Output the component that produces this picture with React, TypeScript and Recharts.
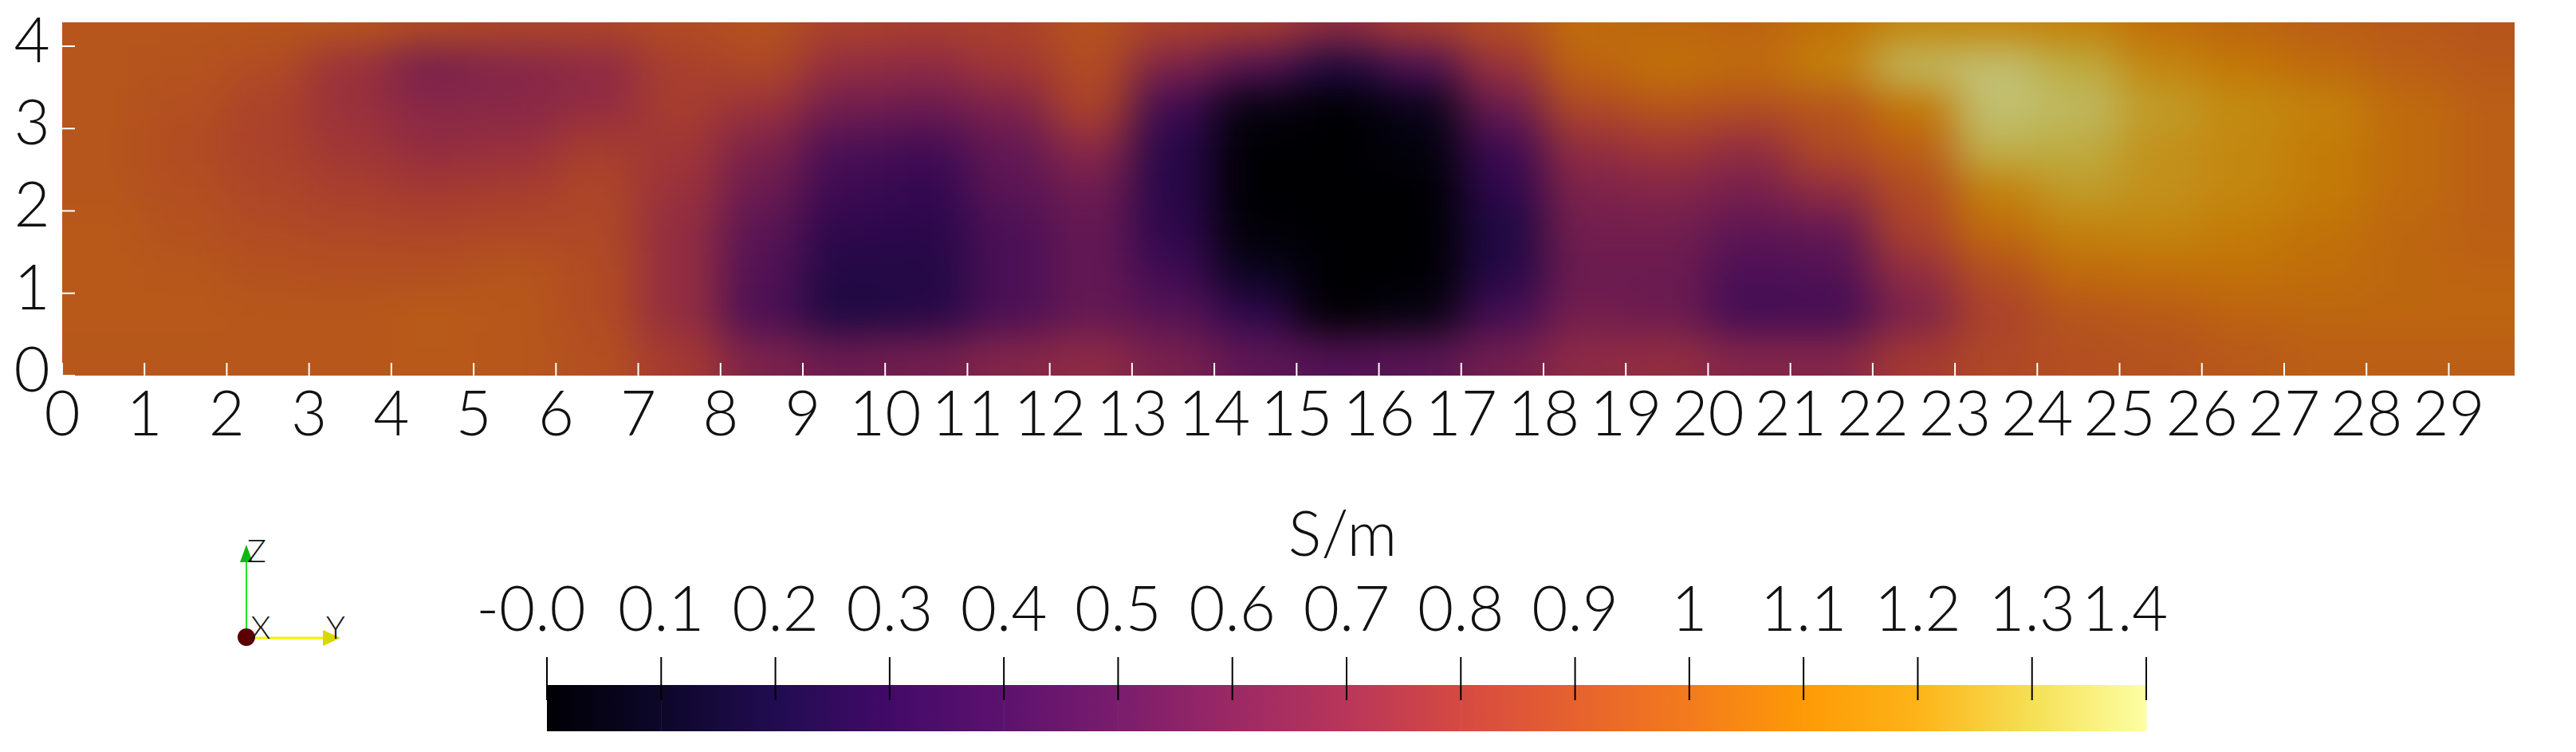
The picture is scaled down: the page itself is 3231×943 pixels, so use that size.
import { Scatter, ScatterChart, XAxis, YAxis } from "recharts";

const WIDTH = 3231;
const HEIGHT = 943;
const FONT = "Lato, sans-serif";

// conductivity, one list per depth row (cell centres x = 0.5 ... 29.5)
const xCentres = [0.5, 1.5, 2.5, 3.5, 4.5, 5.5, 6.5, 7.5, 8.5, 9.5, 10.5, 11.5, 12.5, 13.5, 14.5, 15.5, 16.5, 17.5, 18.5, 19.5, 20.5, 21.5, 22.5, 23.5, 24.5, 25.5, 26.5, 27.5, 28.5, 29.5];
const row425 = [0.95, 0.95, 0.95, 0.95, 0.9, 0.87, 0.87, 0.9, 0.93, 0.85, 0.83, 0.85, 0.93, 0.85, 0.82, 0.72, 0.82, 0.92, 1.05, 1.03, 1.02, 1.08, 1.18, 1.18, 1.15, 1.07, 1.03, 1.0, 0.97, 0.95];
const row375 = [0.95, 0.94, 0.9, 0.75, 0.6, 0.66, 0.7, 0.83, 0.88, 0.72, 0.7, 0.78, 0.9, 0.62, 0.45, 0.22, 0.42, 0.75, 1.02, 1.08, 1.05, 1.15, 1.35, 1.38, 1.3, 1.18, 1.1, 1.05, 1.0, 0.97];
const row325 = [0.95, 0.92, 0.85, 0.75, 0.68, 0.68, 0.72, 0.82, 0.75, 0.58, 0.55, 0.62, 0.85, 0.36, 0.05, 0, 0.08, 0.55, 0.88, 0.95, 0.92, 0.95, 1.1, 1.38, 1.35, 1.25, 1.2, 1.15, 1.05, 1.0];
const row275 = [0.95, 0.9, 0.85, 0.78, 0.72, 0.74, 0.82, 0.78, 0.62, 0.42, 0.38, 0.52, 0.68, 0.26, 0, 0, 0.03, 0.35, 0.72, 0.78, 0.72, 0.9, 1.0, 1.32, 1.3, 1.22, 1.18, 1.12, 1.05, 1.0];
const row225 = [0.95, 0.92, 0.87, 0.83, 0.8, 0.82, 0.87, 0.75, 0.55, 0.35, 0.3, 0.48, 0.56, 0.26, 0, 0, 0, 0.28, 0.62, 0.65, 0.6, 0.72, 0.9, 1.15, 1.25, 1.22, 1.18, 1.12, 1.05, 1.0];
const row175 = [0.97, 0.93, 0.9, 0.88, 0.87, 0.88, 0.88, 0.72, 0.48, 0.28, 0.27, 0.42, 0.52, 0.28, 0.01, 0, 0, 0.22, 0.58, 0.58, 0.5, 0.52, 0.85, 1.05, 1.15, 1.17, 1.12, 1.08, 1.03, 1.0];
const row125 = [0.97, 0.96, 0.93, 0.92, 0.92, 0.95, 0.9, 0.72, 0.45, 0.24, 0.24, 0.42, 0.52, 0.36, 0.1, 0, 0, 0.25, 0.55, 0.55, 0.42, 0.45, 0.72, 0.92, 1.05, 1.07, 1.08, 1.06, 1.03, 1.02];
const row075 = [0.97, 0.97, 0.96, 0.96, 0.98, 0.96, 0.9, 0.72, 0.42, 0.22, 0.25, 0.42, 0.52, 0.46, 0.28, 0, 0.05, 0.38, 0.58, 0.55, 0.38, 0.38, 0.62, 0.85, 0.95, 0.98, 1.02, 1.03, 1.03, 1.03];
const row025 = [0.96, 0.96, 0.96, 0.96, 0.97, 0.96, 0.92, 0.8, 0.62, 0.55, 0.58, 0.65, 0.7, 0.6, 0.5, 0.45, 0.48, 0.58, 0.7, 0.72, 0.65, 0.65, 0.8, 0.88, 0.92, 0.94, 0.97, 1.0, 1.0, 1.0];

const yCentres = [4.25, 3.75, 3.25, 2.75, 2.25, 1.75, 1.25, 0.75, 0.25];
const rows = [row425, row375, row325, row275, row225, row175, row125, row075, row025];

const xTicks = [0, 1, 2, 3, 4, 5, 6, 7, 8, 9, 10, 11, 12, 13, 14, 15, 16, 17, 18, 19, 20, 21, 22, 23, 24, 25, 26, 27, 28, 29];
const yTicks = [0, 1, 2, 3, 4];
const barTicks = [0, 0.1, 0.2, 0.3, 0.4, 0.5, 0.6, 0.7, 0.8, 0.9, 1, 1.1, 1.2, 1.3, 1.4];
const barLabels = ["-0.0", "0.1", "0.2", "0.3", "0.4", "0.5", "0.6", "0.7", "0.8", "0.9", "1", "1.1", "1.2", "1.3", "1.4"];
const barColors = ["#000004", "#0d0729", "#200c50", "#420a68", "#5c126e", "#7a1d6d", "#9b2964", "#b8365a", "#d54a41", "#e6622e", "#f37b1c", "#fd9a06", "#fdb418", "#f5e055", "#fcffa4"];

// the plot in the reference is lit, so it is darker than the colour bar
const SHADE = 0.77;

function toRgb(hex: string) {
  return [1, 3, 5].map((i) => parseInt(hex.slice(i, i + 2), 16));
}

function colorOf(v: number) {
  const t = Math.max(0, Math.min(1.4, v)) / 0.1;
  const i = Math.min(13, Math.floor(t));
  const a = toRgb(barColors[i]);
  const b = toRgb(barColors[i + 1]);
  const c = a.map((n, k) => Math.round((n + (b[k] - n) * (t - i)) * SHADE));
  return `rgb(${c[0]},${c[1]},${c[2]})`;
}

const heatData = yCentres.flatMap((y, r) => xCentres.map((x, c) => ({ x, y, v: rows[r][c] })));
const barData = barTicks.slice(0, -1).map((x) => ({ x, y: 0 }));

const PLOT = { left: 78, right: 3154, top: 28, bottom: 471 };
const BAR = { left: 686, right: 2692, top: 859, bottom: 917 };
const X_MAX = 29.8;
const Y_MAX = 4.29;
const cellW = (PLOT.right - PLOT.left) / X_MAX;
const cellH = ((PLOT.bottom - PLOT.top) / Y_MAX) * 0.5;
const segW = (BAR.right - BAR.left) / (barTicks.length - 1);
const BLEED = 150;
const LABEL_SIZE = 78;

function HeatCell(props: any) {
  const { cx, cy, payload } = props;
  // edge cells run on past the plot so the blur does not fade to white there
  const l = payload.x === xCentres[0] ? BLEED : 0;
  const r = payload.x === xCentres[xCentres.length - 1] ? BLEED : 0;
  const t = payload.y === yCentres[0] ? BLEED : 0;
  const b = payload.y === yCentres[yCentres.length - 1] ? BLEED : 0;
  return (
    <rect
      x={cx - cellW / 2 - l}
      y={cy - cellH / 2 - t}
      width={cellW + l + r + 1}
      height={cellH + t + b + 1}
      fill={colorOf(payload.v)}
    />
  );
}

function BarSegment(props: any) {
  const { cx, index } = props;
  return <rect x={cx} y={BAR.top} width={segW + 0.5} height={BAR.bottom - BAR.top} fill={`url(#barSeg${index})`} />;
}

function BottomTick(props: any) {
  const { x, y, payload } = props;
  return (
    <g>
      <line x1={x} x2={x} y1={y} y2={y - 16} stroke="#fff" strokeWidth={2} />
      <text x={x} y={y + 75} textAnchor="middle" fontFamily={FONT} fontWeight={300} fontSize={LABEL_SIZE} fill="#111">
        {payload.value}
      </text>
    </g>
  );
}

function LeftTick(props: any) {
  const { x, y, payload } = props;
  return (
    <g>
      <line x1={x} x2={x + 16} y1={y} y2={y} stroke="#fff" strokeWidth={2} />
      <text x={x - 38} y={y + 20} textAnchor="middle" fontFamily={FONT} fontWeight={300} fontSize={LABEL_SIZE} fill="#111">
        {payload.value}
      </text>
    </g>
  );
}

function RightTick(props: any) {
  const { x, y, payload } = props;
  return (
    <g>
      <line x1={x - 16} x2={x} y1={y} y2={y} stroke="#fff" strokeWidth={2} />
      <text x={x + 37} y={y + 20} textAnchor="middle" fontFamily={FONT} fontWeight={300} fontSize={LABEL_SIZE} fill="#111">
        {payload.value}
      </text>
    </g>
  );
}

function BarTick(props: any) {
  const { x, payload } = props;
  const i = barTicks.indexOf(payload.value);
  // first and last label sit off their tick in the reference
  const shift = i === 0 ? -20 : i === barTicks.length - 1 ? -27 : 0;
  return (
    <g>
      <line x1={x} x2={x} y1={824} y2={878} stroke="#000" strokeWidth={2} />
      <text x={x + shift} y={791} textAnchor="middle" fontFamily={FONT} fontWeight={300} fontSize={LABEL_SIZE} fill="#111">
        {barLabels[i]}
      </text>
    </g>
  );
}

function Triad() {
  return (
    <svg width={WIDTH} height={HEIGHT} style={{ position: "absolute", left: 0, top: 0 }}>
      <line x1={309} x2={309} y1={799} y2={700} stroke="#22e622" strokeWidth={2} />
      <polygon points="309,683 301,705 317,705" fill="#0fb80f" />
      <line x1={309} x2={408} y1={800} y2={800} stroke="#f4f400" strokeWidth={3} />
      <polygon points="427,800 405,790 405,810" fill="#d8d800" />
      <circle cx={309} cy={799} r={11} fill="#5a0000" />
      <g fontFamily={FONT} fontWeight={300} fontSize={40} fill="#111" textAnchor="middle">
        <text x={322} y={705}>Z</text>
        <text x={327} y={801}>X</text>
        <text x={421} y={801}>Y</text>
      </g>
    </svg>
  );
}

export default function App() {
  return (
    <div style={{ position: "absolute", left: 0, top: 0, width: WIDTH, height: HEIGHT, background: "#fff", overflow: "hidden" }}>
      <style>{`.heat { filter: url(#heatBlur); clip-path: url(#plotClip); }`}</style>

      <div style={{ position: "absolute", left: 0, top: 0 }}>
        <ScatterChart
          width={WIDTH}
          height={HEIGHT}
          margin={{ left: PLOT.left - 40, right: WIDTH - PLOT.right - 40, top: PLOT.top, bottom: HEIGHT - PLOT.bottom - 40 }}
        >
          <defs>
            <filter id="heatBlur" filterUnits="userSpaceOnUse" x={-200} y={-200} width={3700} height={1000} colorInterpolationFilters="sRGB">
              <feGaussianBlur stdDeviation="28 24" />
            </filter>
            <clipPath id="plotClip">
              <rect x={PLOT.left} y={PLOT.top} width={PLOT.right - PLOT.left} height={PLOT.bottom - PLOT.top} />
            </clipPath>
          </defs>
          <Scatter className="heat" data={heatData} dataKey="v" yAxisId="left" shape={HeatCell} isAnimationActive={false} />
          <XAxis type="number" dataKey="x" domain={[0, X_MAX]} ticks={xTicks} interval={0} height={40} axisLine={false} tickLine={false} tickSize={0} tickMargin={0} tick={BottomTick} />
          <YAxis yAxisId="left" type="number" dataKey="y" domain={[0, Y_MAX]} ticks={yTicks} interval={0} width={40} axisLine={false} tickLine={false} tickSize={0} tickMargin={0} tick={LeftTick} />
          <YAxis yAxisId="right" orientation="right" type="number" domain={[0, Y_MAX]} ticks={yTicks} interval={0} width={40} axisLine={false} tickLine={false} tickSize={0} tickMargin={0} tick={RightTick} />
        </ScatterChart>
      </div>

      <div style={{ position: "absolute", left: 0, top: 0 }}>
        <ScatterChart width={WIDTH} height={HEIGHT} margin={{ left: BAR.left, right: WIDTH - BAR.right, top: BAR.top - 30, bottom: HEIGHT - BAR.bottom }}>
          <defs>
            {barData.map((_, i) => (
              <linearGradient key={i} id={`barSeg${i}`} x1="0" x2="1" y1="0" y2="0">
                <stop offset={0} stopColor={barColors[i]} />
                <stop offset={1} stopColor={barColors[i + 1]} />
              </linearGradient>
            ))}
          </defs>
          <Scatter data={barData} dataKey="y" shape={BarSegment} isAnimationActive={false} />
          <XAxis orientation="top" type="number" dataKey="x" domain={[0, 1.4]} ticks={barTicks} interval={0} height={30} axisLine={false} tickLine={false} tickSize={0} tickMargin={0} tick={BarTick} />
          <YAxis hide type="number" dataKey="y" domain={[0, 1]} />
          <text x={1684} y={697} textAnchor="middle" fontFamily={FONT} fontWeight={300} fontSize={LABEL_SIZE} fill="#111">S/m</text>
        </ScatterChart>
      </div>

      <Triad />
    </div>
  );
}
